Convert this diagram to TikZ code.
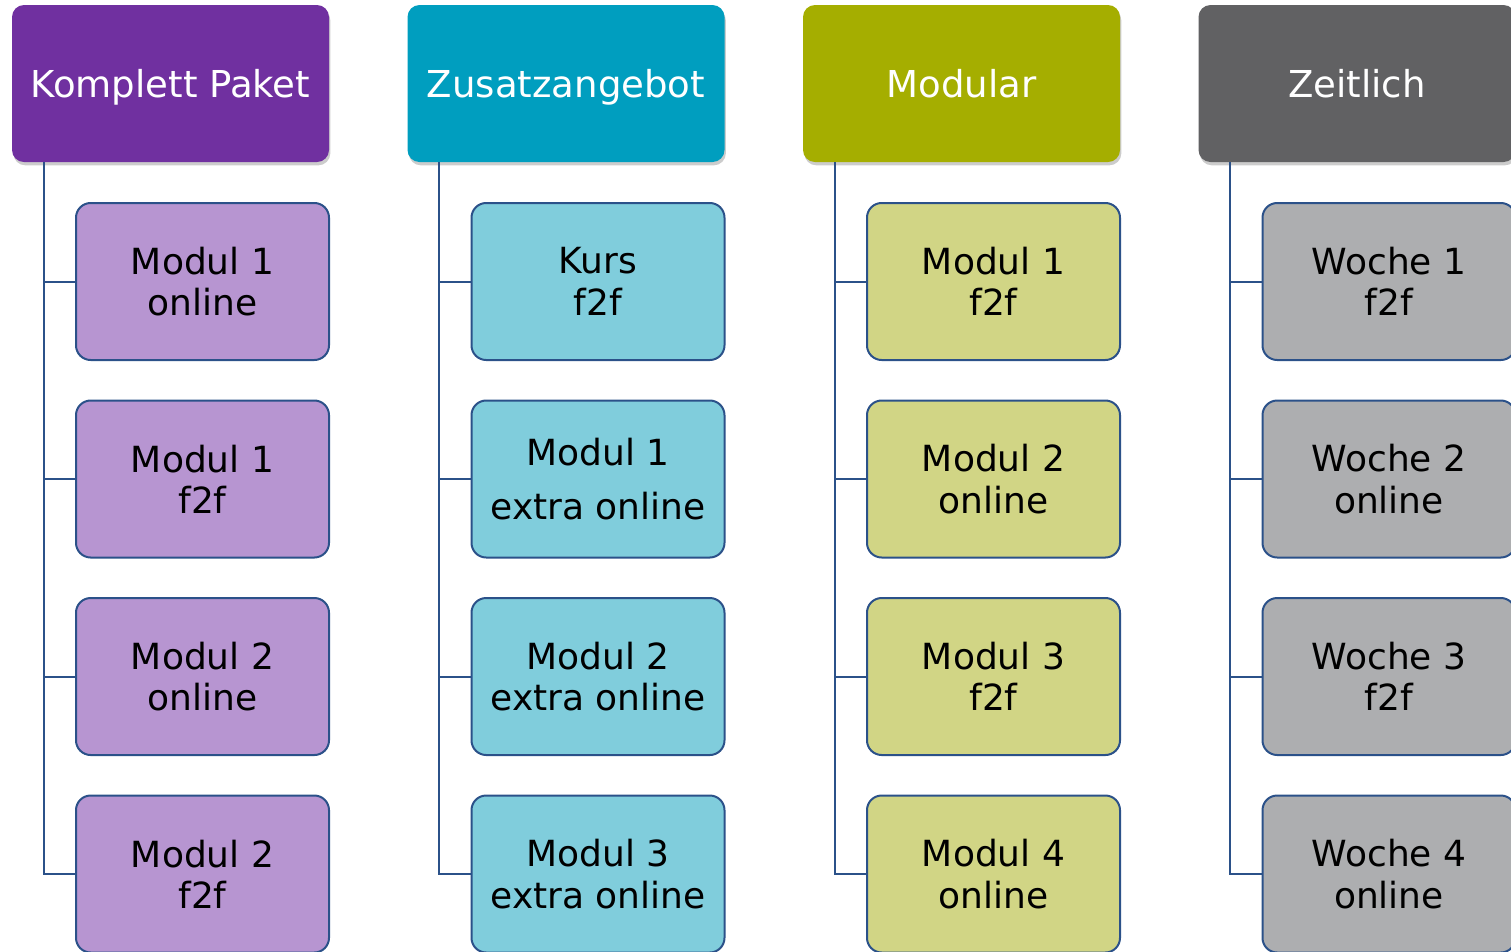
\documentclass[tikz,border=0pt]{standalone}
\usepackage{fontspec}
\setmainfont{DejaVu Sans}
\usetikzlibrary{shadows,calc}
\definecolor{hpurple}{HTML}{7030A0}
\definecolor{cpurple}{HTML}{B795D1}
\definecolor{hcyan}{HTML}{009EBF}
\definecolor{ccyan}{HTML}{80CDDC}
\definecolor{holive}{HTML}{A5AE00}
\definecolor{colive}{HTML}{D1D585}
\definecolor{hgray}{HTML}{616163}
\definecolor{cgray}{HTML}{ADAEB0}
\definecolor{bordblue}{HTML}{2B5189}
\tikzset{
  headbox/.style={rectangle, rounded corners=9pt, minimum width=237.75pt, minimum height=117.75pt,
    inner sep=0pt, text=white, font=\fontsize{27.8}{31}\selectfont, text depth=0pt,
    drop shadow={shadow xshift=1pt, shadow yshift=-2.5pt, opacity=0.2, fill=black}},
  childbox/.style={rectangle, rounded corners=11pt, draw=bordblue, line width=1.5pt,
    minimum width=189.75pt, minimum height=117.75pt, inner sep=0pt, align=center,
    text=black, font=\fontsize{27}{31}\selectfont},
  conn/.style={draw=bordblue, line width=1.5pt}
}
\begin{document}
\begin{tikzpicture}[x=0.75pt,y=-0.75pt]
\useasboundingbox (0,0) rectangle (1511,951);
\clip (0,0) rectangle (1511,951);
% headers
\node[headbox, fill=hpurple] (h1) at (170.5,83.5) {Komplett Paket};
\node[headbox, fill=hcyan]   (h2) at (566,83.5) {Zusatzangebot};
\node[headbox, fill=holive]  (h3) at (961.5,83.5) {Modular};
\node[headbox, fill=hgray]   (h4) at (1357,83.5) {Zeitlich};
% column 1
\node[childbox, fill=cpurple] (c1a) at (202.5,281.5) {Modul 1\\online};
\node[childbox, fill=cpurple] (c1b) at (202.5,479) {Modul 1\\f2f};
\node[childbox, fill=cpurple] (c1c) at (202.5,676.5) {Modul 2\\online};
\node[childbox, fill=cpurple] (c1d) at (202.5,874) {Modul 2\\f2f};
% column 2
\node[childbox, fill=ccyan] (c2a) at (598,281.5) {Kurs\\f2f};
\node[childbox, fill=ccyan] (c2b) at (598,479) {Modul 1\\[10pt]extra online};
\node[childbox, fill=ccyan] (c2c) at (598,676.5) {Modul 2\\extra online};
\node[childbox, fill=ccyan] (c2d) at (598,874) {Modul 3\\extra online};
% column 3
\node[childbox, fill=colive] (c3a) at (993.5,281.5) {Modul 1\\f2f};
\node[childbox, fill=colive] (c3b) at (993.5,479) {Modul 2\\online};
\node[childbox, fill=colive] (c3c) at (993.5,676.5) {Modul 3\\f2f};
\node[childbox, fill=colive] (c3d) at (993.5,874) {Modul 4\\online};
% column 4
\node[childbox, fill=cgray] (c4a) at (1389,281.5) {Woche 1\\f2f};
\node[childbox, fill=cgray] (c4b) at (1389,479) {Woche 2\\online};
\node[childbox, fill=cgray] (c4c) at (1389,676.5) {Woche 3\\f2f};
\node[childbox, fill=cgray] (c4d) at (1389,874) {Woche 4\\online};
% connectors
\coordinate (t1) at ($(h1.south west)+(32,0)$);
\coordinate (t2) at ($(h2.south west)+(32,0)$);
\coordinate (t3) at ($(h3.south west)+(32,0)$);
\coordinate (t4) at ($(h4.south west)+(32,0)$);
\foreach \c in {1,2,3,4}{
  \foreach \r in {a,b,c,d}{
    \draw[conn] (t\c) |- (c\c\r.west);
  }
}
\end{tikzpicture}
\end{document}
